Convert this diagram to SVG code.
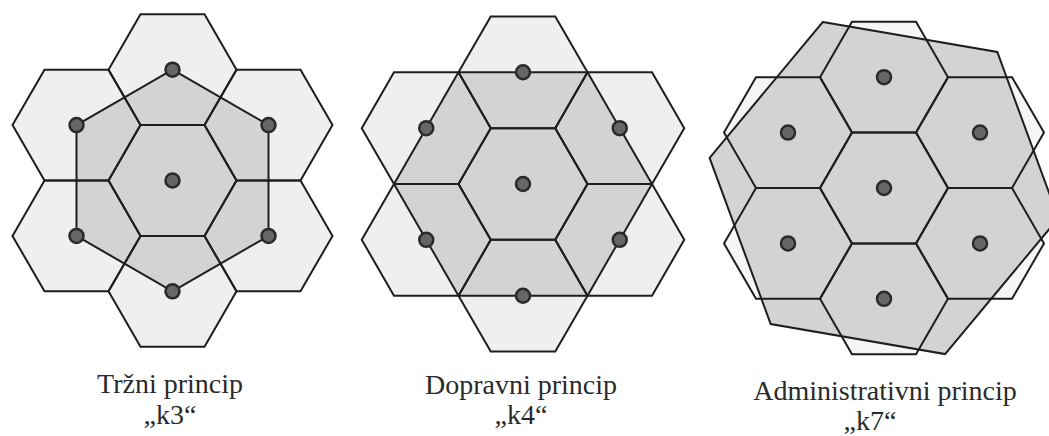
<svg xmlns="http://www.w3.org/2000/svg" xmlns:xlink="http://www.w3.org/1999/xlink" width="1049" height="436" viewBox="0 0 1049 436">
<style>
.light{fill:#efefef;stroke:none}
.white{fill:#f6f6f6;stroke:none}
.shade{fill:#d3d3d3;stroke:none}
.line{fill:none;stroke:#1e1e1e;stroke-width:2;stroke-linejoin:miter}
.dot{fill:#666;stroke:#2a2a2a;stroke-width:2.5}
.lbl{font-family:"Liberation Serif","Times New Roman",serif;font-size:28px;fill:#2a2a2a;text-anchor:middle}
</style>
<defs>
<path id="hex" d="M64,0 L32,55.43 L-32,55.43 L-64,0 L-32,-55.43 L32,-55.43 Z"/>
<path id="hexb" d="M64.5,0 L32.25,55.86 L-32.25,55.86 L-64.5,0 L-32.25,-55.86 L32.25,-55.86 Z"/>
</defs>
<rect width="1049" height="436" fill="#ffffff"/>

<g id="k3">
<g class="light">
<use xlink:href="#hex" x="172.5" y="180.5"/>
<use xlink:href="#hex" x="172.5" y="69.64"/>
<use xlink:href="#hex" x="172.5" y="291.36"/>
<use xlink:href="#hex" x="76.5" y="125.07"/>
<use xlink:href="#hex" x="268.5" y="125.07"/>
<use xlink:href="#hex" x="76.5" y="235.93"/>
<use xlink:href="#hex" x="268.5" y="235.93"/>
</g>
<polygon class="shade" points="172.5,69.64 268.5,125.07 268.5,235.93 172.5,291.36 76.5,235.93 76.5,125.07"/>
<g class="line">
<use xlink:href="#hex" x="172.5" y="180.5"/>
<use xlink:href="#hex" x="172.5" y="69.64"/>
<use xlink:href="#hex" x="172.5" y="291.36"/>
<use xlink:href="#hex" x="76.5" y="125.07"/>
<use xlink:href="#hex" x="268.5" y="125.07"/>
<use xlink:href="#hex" x="76.5" y="235.93"/>
<use xlink:href="#hex" x="268.5" y="235.93"/>
</g>
<polygon class="line" points="172.5,69.64 268.5,125.07 268.5,235.93 172.5,291.36 76.5,235.93 76.5,125.07"/>
<g class="dot">
<circle cx="172.5" cy="180.5" r="7"/>
<circle cx="172.5" cy="69.64" r="7"/>
<circle cx="172.5" cy="291.36" r="7"/>
<circle cx="76.5" cy="125.07" r="7"/>
<circle cx="268.5" cy="125.07" r="7"/>
<circle cx="76.5" cy="235.93" r="7"/>
<circle cx="268.5" cy="235.93" r="7"/>
</g>
<text class="lbl" x="170" y="393">Tržni princip</text>
<text class="lbl" x="170" y="424">„k3“</text>
</g>

<g id="k4">
<g class="light">
<use xlink:href="#hexb" x="523" y="184"/>
<use xlink:href="#hexb" x="523" y="72.28"/>
<use xlink:href="#hexb" x="523" y="295.72"/>
<use xlink:href="#hexb" x="426.25" y="128.14"/>
<use xlink:href="#hexb" x="619.75" y="128.14"/>
<use xlink:href="#hexb" x="426.25" y="239.86"/>
<use xlink:href="#hexb" x="619.75" y="239.86"/>
</g>
<polygon class="shade" points="652,184 587.5,72.28 458.5,72.28 394,184 458.5,295.72 587.5,295.72"/>
<g class="line">
<use xlink:href="#hexb" x="523" y="184"/>
<use xlink:href="#hexb" x="523" y="72.28"/>
<use xlink:href="#hexb" x="523" y="295.72"/>
<use xlink:href="#hexb" x="426.25" y="128.14"/>
<use xlink:href="#hexb" x="619.75" y="128.14"/>
<use xlink:href="#hexb" x="426.25" y="239.86"/>
<use xlink:href="#hexb" x="619.75" y="239.86"/>
</g>
<polygon class="line" points="652,184 587.5,72.28 458.5,72.28 394,184 458.5,295.72 587.5,295.72"/>
<g class="dot">
<circle cx="523" cy="184" r="7"/>
<circle cx="523" cy="72.28" r="7"/>
<circle cx="523" cy="295.72" r="7"/>
<circle cx="426.25" cy="128.14" r="7"/>
<circle cx="619.75" cy="128.14" r="7"/>
<circle cx="426.25" cy="239.86" r="7"/>
<circle cx="619.75" cy="239.86" r="7"/>
</g>
<text class="lbl" x="521" y="394">Dopravni princip</text>
<text class="lbl" x="521" y="424">„k4“</text>
</g>

<g id="k7">
<g class="white">
<use xlink:href="#hex" x="884" y="188"/>
<use xlink:href="#hex" x="884" y="77.14"/>
<use xlink:href="#hex" x="884" y="298.86"/>
<use xlink:href="#hex" x="788" y="132.57"/>
<use xlink:href="#hex" x="980" y="132.57"/>
<use xlink:href="#hex" x="788" y="243.43"/>
<use xlink:href="#hex" x="980" y="243.43"/>
</g>
<polygon class="shade" points="822.9,21.9 997.3,52 1058.4,218.1 945.1,354.1 770.7,324 709.6,157.9"/>
<g class="line">
<use xlink:href="#hex" x="884" y="188"/>
<use xlink:href="#hex" x="884" y="77.14"/>
<use xlink:href="#hex" x="884" y="298.86"/>
<use xlink:href="#hex" x="788" y="132.57"/>
<use xlink:href="#hex" x="980" y="132.57"/>
<use xlink:href="#hex" x="788" y="243.43"/>
<use xlink:href="#hex" x="980" y="243.43"/>
</g>
<polygon class="line" points="822.9,21.9 997.3,52 1058.4,218.1 945.1,354.1 770.7,324 709.6,157.9"/>
<g class="dot">
<circle cx="884" cy="188" r="7"/>
<circle cx="884" cy="77.14" r="7"/>
<circle cx="884" cy="298.86" r="7"/>
<circle cx="788" cy="132.57" r="7"/>
<circle cx="980" cy="132.57" r="7"/>
<circle cx="788" cy="243.43" r="7"/>
<circle cx="980" cy="243.43" r="7"/>
</g>
<text class="lbl" x="885" y="400">Administrativni princip</text>
<text class="lbl" x="870" y="430">„k7“</text>
</g>
</svg>
